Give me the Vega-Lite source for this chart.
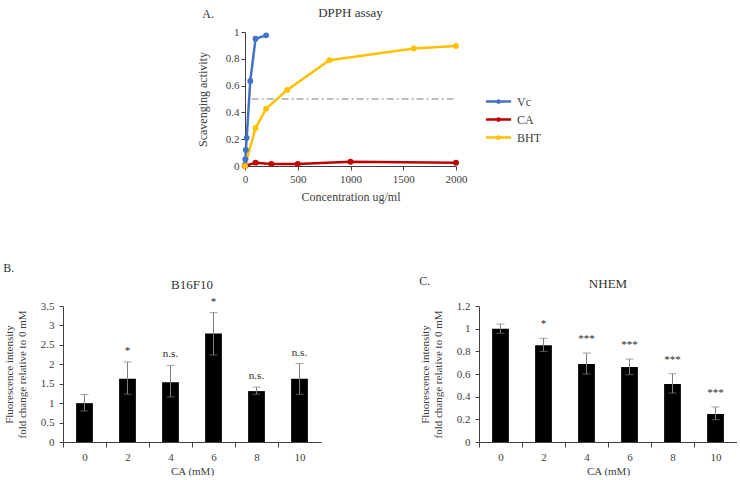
{
  "$schema": "https://vega.github.io/schema/vega-lite/v6.json",
  "background": "white",
  "padding": {"left": 3, "top": 7, "right": 0, "bottom": 0},
  "config": {
    "font": "Liberation Serif",
    "view": {"stroke": null},
    "axis": {"grid": false, "labelFont": "Liberation Serif", "titleFont": "Liberation Serif", "labelFontSize": 11, "titleFontSize": 11, "titleFontWeight": "normal", "labelColor": "#404040", "titleColor": "#404040", "domainColor": "#404040", "tickColor": "#404040", "tickSize": 4},
    "title": {"font": "Liberation Serif", "fontSize": 13, "fontWeight": "normal", "color": "#333333"},
    "legend": {"labelFont": "Liberation Serif", "labelFontSize": 12, "labelColor": "#404040"}
  },
  "datasets": {
    "dpph": [
      {"series": "Vc", "conc": 0, "act": 0.01},
      {"series": "Vc", "conc": 4, "act": 0.05},
      {"series": "Vc", "conc": 8, "act": 0.12},
      {"series": "Vc", "conc": 16, "act": 0.21},
      {"series": "Vc", "conc": 50, "act": 0.635},
      {"series": "Vc", "conc": 100, "act": 0.95},
      {"series": "Vc", "conc": 200, "act": 0.975},
      {"series": "CA", "conc": 0, "act": 0.0},
      {"series": "CA", "conc": 100, "act": 0.025},
      {"series": "CA", "conc": 250, "act": 0.015},
      {"series": "CA", "conc": 500, "act": 0.015},
      {"series": "CA", "conc": 1000, "act": 0.032},
      {"series": "CA", "conc": 2000, "act": 0.025},
      {"series": "BHT", "conc": 0, "act": 0.0},
      {"series": "BHT", "conc": 100, "act": 0.284},
      {"series": "BHT", "conc": 200, "act": 0.427},
      {"series": "BHT", "conc": 400, "act": 0.568},
      {"series": "BHT", "conc": 800, "act": 0.79},
      {"series": "BHT", "conc": 1600, "act": 0.877},
      {"series": "BHT", "conc": 2000, "act": 0.896}
    ],
    "b16": [
      {"ca": "0", "mean": 1.0, "lo": 0.8, "hi": 1.22, "sig": ""},
      {"ca": "2", "mean": 1.63, "lo": 1.23, "hi": 2.06, "sig": "*"},
      {"ca": "4", "mean": 1.535, "lo": 1.16, "hi": 1.97, "sig": "n.s."},
      {"ca": "6", "mean": 2.79, "lo": 2.24, "hi": 3.33, "sig": "*"},
      {"ca": "8", "mean": 1.31, "lo": 1.23, "hi": 1.415, "sig": "n.s."},
      {"ca": "10", "mean": 1.63, "lo": 1.23, "hi": 2.02, "sig": "n.s."}
    ],
    "nhem": [
      {"ca": "0", "mean": 1.0, "lo": 0.96, "hi": 1.04, "sig": ""},
      {"ca": "2", "mean": 0.853, "lo": 0.8, "hi": 0.915, "sig": "*"},
      {"ca": "4", "mean": 0.688, "lo": 0.6, "hi": 0.785, "sig": "***"},
      {"ca": "6", "mean": 0.662, "lo": 0.594, "hi": 0.732, "sig": "***"},
      {"ca": "8", "mean": 0.512, "lo": 0.432, "hi": 0.603, "sig": "***"},
      {"ca": "10", "mean": 0.247, "lo": 0.197, "hi": 0.309, "sig": "***"}
    ]
  },
  "spacing": 59,
  "center": true,
  "resolve": {"scale": {"color": "independent"}},
  "vconcat": [
    {
      "title": {"text": "A.", "anchor": "start", "fontSize": 12, "offset": -14, "dx": 6},
      "resolve": {"scale": {"color": "independent"}},
      "vconcat": [
        {
          "title": {"text": "DPPH assay", "offset": 6},
          "width": 211,
          "height": 134,
          "layer": [
            {
              "data": {"values": [{"x1": 63, "x2": 2000, "y": 0.5}]},
              "mark": {"type": "rule", "color": "#7f7f7f", "strokeWidth": 1, "strokeDash": [7, 3, 2, 3]},
              "encoding": {
                "x": {"field": "x1", "type": "quantitative", "title": "Concentration ug/ml", "scale": {"domain": [0, 2000], "nice": false}, "axis": {"values": [0, 500, 1000, 1500, 2000], "format": "d", "labelFlush": false, "labelPadding": 3, "titlePadding": 7, "titleFontSize": 12}},
                "x2": {"field": "x2"},
                "y": {"field": "y", "type": "quantitative", "title": "Scavenging activity", "scale": {"domain": [0, 1], "nice": false}, "axis": {"values": [0, 0.2, 0.4, 0.6, 0.8, 1], "format": "~g", "titlePadding": 16, "titleFontSize": 12}}
              }
            },
            {
              "data": {"name": "dpph"},
              "mark": {"type": "line", "strokeWidth": 2.5, "point": {"filled": true, "size": 35}},
              "encoding": {
                "x": {"field": "conc", "type": "quantitative", "title": "Concentration ug/ml", "scale": {"domain": [0, 2000], "nice": false}, "axis": {"values": [0, 500, 1000, 1500, 2000], "format": "d", "labelFlush": false, "labelPadding": 3, "titlePadding": 7, "titleFontSize": 12}},
                "y": {"field": "act", "type": "quantitative", "title": "Scavenging activity", "scale": {"domain": [0, 1], "nice": false}, "axis": {"values": [0, 0.2, 0.4, 0.6, 0.8, 1], "format": "~g", "titlePadding": 16, "titleFontSize": 12}},
                "color": {
                  "field": "series", "type": "nominal", "sort": ["Vc", "CA", "BHT"],
                  "scale": {"domain": ["Vc", "CA", "BHT"], "range": ["#4472C4", "#C00000", "#FFC000"]},
                  "legend": {
                    "title": null, "orient": "none", "legendX": 229, "legendY": 45, "padding": 14,
                    "symbolType": "M-1.4,0L1.4,0M-0.12,0A0.12,0.12,0,1,1,0.12,0A0.12,0.12,0,1,1,-0.12,0Z",
                    "symbolSize": 324, "symbolStrokeWidth": 2.5, "rowPadding": 1, "labelOffset": 8
                  }
                }
              }
            }
          ]
        }
      ]
    },
    {
      "spacing": 98,
      "hconcat": [
        {
          "title": {"text": "B.", "anchor": "start", "fontSize": 12},
          "vconcat": [
            {
              "title": {"text": "B16F10", "offset": 4},
              "width": 258,
              "height": 136,
              "data": {"name": "b16"},
              "encoding": {
                "x": {"field": "ca", "type": "ordinal", "sort": null, "title": "CA (mM)", "scale": {"paddingInner": 0.61, "paddingOuter": 0.305}, "axis": {"labelAngle": 0, "tickOffset": -21.5, "labelOffset": 21.5, "tickSize": 5, "labelPadding": 4, "titlePadding": 3}}
              },
              "layer": [
                {"mark": {"type": "bar", "color": "black"}, "encoding": {"y": {"field": "mean", "type": "quantitative", "title": ["Fluorescence intensity", "fold change relative to 0 mM"], "scale": {"domain": [0, 3.5], "nice": false}, "axis": {"values": [0, 0.5, 1, 1.5, 2, 2.5, 3, 3.5], "format": "~g", "titlePadding": 13, "labelPadding": 5}}}},
                {"mark": {"type": "errorbar", "color": "#7f7f7f", "ticks": {"size": 8}}, "encoding": {"y": {"field": "lo", "type": "quantitative", "title": ["Fluorescence intensity", "fold change relative to 0 mM"], "scale": {"domain": [0, 3.5], "nice": false}, "axis": {"values": [0, 0.5, 1, 1.5, 2, 2.5, 3, 3.5], "format": "~g", "titlePadding": 13, "labelPadding": 5}}, "y2": {"field": "hi"}}},
                {"mark": {"type": "text", "dy": -8, "fontSize": 11, "color": "#262626", "baseline": "alphabetic"}, "encoding": {"y": {"field": "hi", "type": "quantitative", "title": ["Fluorescence intensity", "fold change relative to 0 mM"], "scale": {"domain": [0, 3.5], "nice": false}, "axis": {"values": [0, 0.5, 1, 1.5, 2, 2.5, 3, 3.5], "format": "~g", "titlePadding": 13, "labelPadding": 5}}, "text": {"field": "sig"}}}
              ]
            }
          ]
        },
        {
          "title": {"text": "C.", "anchor": "start", "fontSize": 12, "offset": -10},
          "vconcat": [
            {
              "title": {"text": "NHEM", "offset": 9},
              "width": 258,
              "height": 136,
              "data": {"name": "nhem"},
              "encoding": {
                "x": {"field": "ca", "type": "ordinal", "sort": null, "title": "CA (mM)", "scale": {"paddingInner": 0.61, "paddingOuter": 0.305}, "axis": {"labelAngle": 0, "tickOffset": -21.5, "labelOffset": 21.5, "tickSize": 5, "labelPadding": 4, "titlePadding": 3}}
              },
              "layer": [
                {"mark": {"type": "bar", "color": "black"}, "encoding": {"y": {"field": "mean", "type": "quantitative", "title": ["Fluorescence intensity", "fold change relative to 0 mM"], "scale": {"domain": [0, 1.2], "nice": false}, "axis": {"values": [0, 0.2, 0.4, 0.6, 0.8, 1, 1.2], "format": "~g", "titlePadding": 13, "labelPadding": 5}}}},
                {"mark": {"type": "errorbar", "color": "#7f7f7f", "ticks": {"size": 8}}, "encoding": {"y": {"field": "lo", "type": "quantitative", "title": ["Fluorescence intensity", "fold change relative to 0 mM"], "scale": {"domain": [0, 1.2], "nice": false}, "axis": {"values": [0, 0.2, 0.4, 0.6, 0.8, 1, 1.2], "format": "~g", "titlePadding": 13, "labelPadding": 5}}, "y2": {"field": "hi"}}},
                {"mark": {"type": "text", "dy": -11, "fontSize": 11, "color": "#262626", "baseline": "alphabetic"}, "encoding": {"y": {"field": "hi", "type": "quantitative", "title": ["Fluorescence intensity", "fold change relative to 0 mM"], "scale": {"domain": [0, 1.2], "nice": false}, "axis": {"values": [0, 0.2, 0.4, 0.6, 0.8, 1, 1.2], "format": "~g", "titlePadding": 13, "labelPadding": 5}}, "text": {"field": "sig"}}}
              ]
            }
          ]
        }
      ]
    }
  ]
}
